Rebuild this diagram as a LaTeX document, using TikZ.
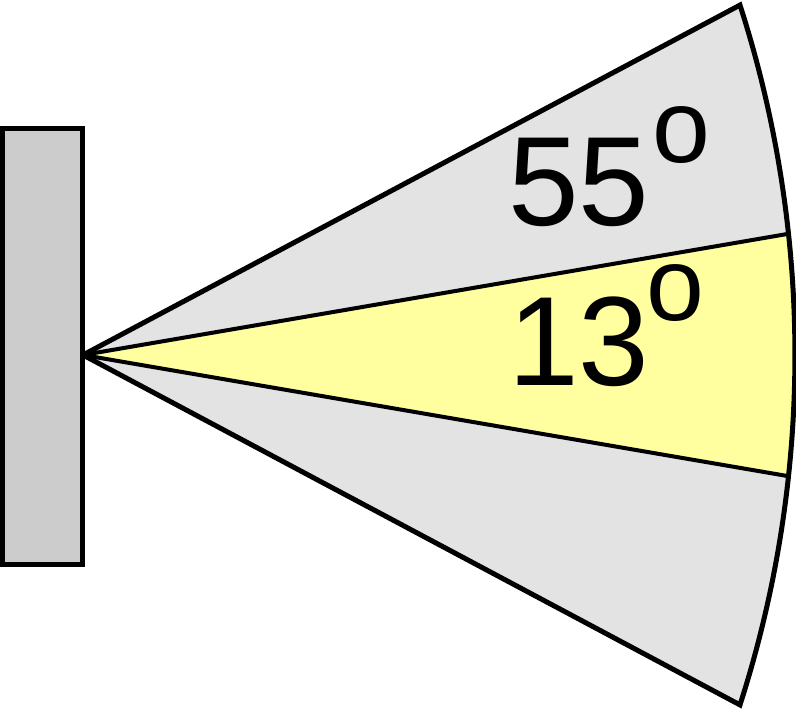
\documentclass[tikz,border=0pt]{standalone}
\usepackage{fontspec}
\setmainfont{Liberation Sans}

\definecolor{sectorgray}{HTML}{E3E3E3}
\definecolor{beamyellow}{HTML}{FFFFA0}
\definecolor{plategray}{HTML}{CCCCCC}

\begin{document}
\begin{tikzpicture}[x=1pt,y=1pt,
	edge/.style={line width=5pt},
	inner edge/.style={line width=4pt},
	angle label/.style={anchor=base west,inner sep=0pt,outer sep=0pt,font=\fontsize{127}{127}\selectfont}]
	\useasboundingbox (0,0) rectangle (796,712);
	\begin{scope}[shift={(-346,357)}]
		\coordinate (apex) at (429,0);
		\fill[sectorgray] (apex) -- (17.86:1141) arc[start angle=17.86,end angle=-17.86,radius=1141] -- cycle;
		\fill[beamyellow] (apex) -- (6.1:1141) arc[start angle=6.1,end angle=-6.1,radius=1141] -- cycle;
		\draw[edge] (apex) -- (17.86:1141) arc[start angle=17.86,end angle=-17.86,radius=1141] -- cycle;
		\foreach \a in {6.1,-6.1}
			\draw[inner edge] (apex) -- (\a:1141);
	\end{scope}
	\filldraw[edge,fill=plategray] (2.5,147) rectangle (82.5,583);
	\node[angle label] (wide) at (508,486) {55\kern3pt\raisebox{63pt}{\fontsize{104}{104}\selectfont o}};
	\node[angle label] (narrow) at (508,326) {13\kern-3pt\raisebox{65pt}{\fontsize{104}{104}\selectfont o}};
\end{tikzpicture}
\end{document}
